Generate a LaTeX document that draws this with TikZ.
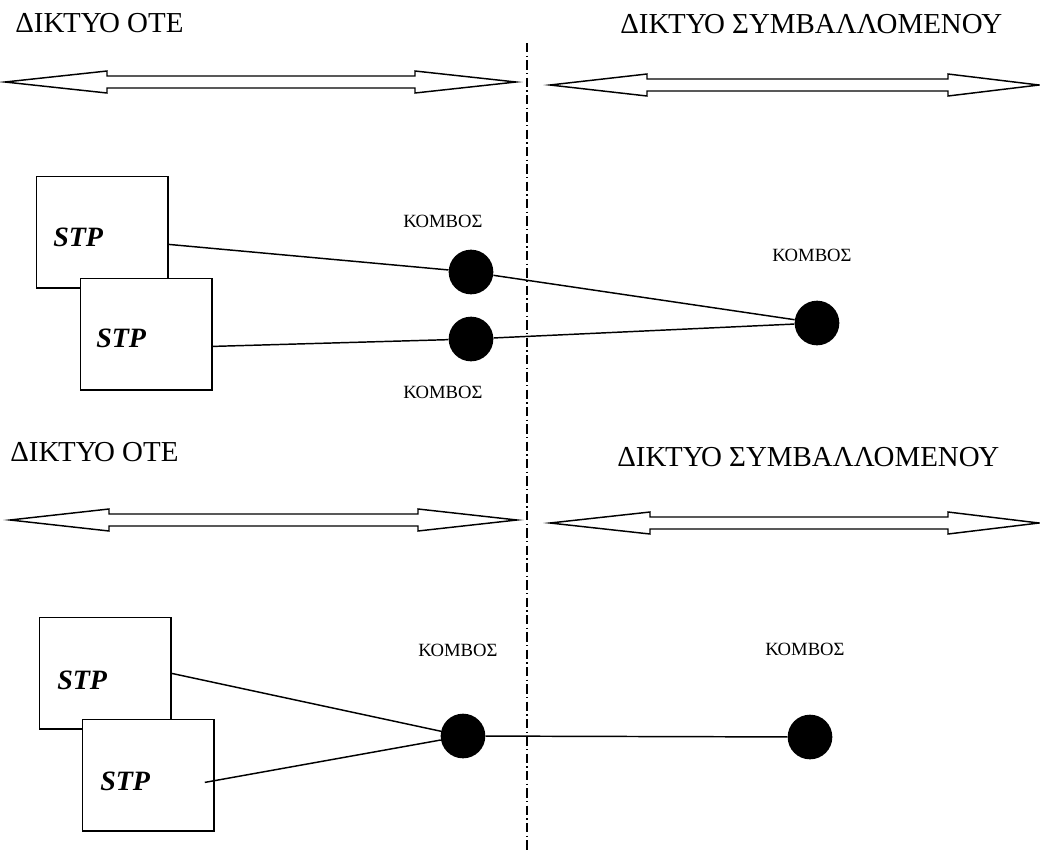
\documentclass[tikz,border=0pt]{standalone}
\usepackage{fontspec}
\setmainfont{Liberation Serif}
\usetikzlibrary{calc}

\tikzset{
  stpbox/.style={draw, fill=white, line width=1.1pt, minimum width=98.5pt, minimum height=83.5pt, inner sep=0pt},
  stplabel/.style={anchor=west, inner sep=0pt, font=\fontsize{21pt}{24pt}\selectfont\bfseries\itshape},
  komvos/.style={circle, fill=black, minimum size=33.5pt, inner sep=0pt},
  komvoslabel/.style={inner sep=0pt, font=\fontsize{14pt}{16pt}\selectfont},
  heading/.style={anchor=base west, inner sep=0pt, font=\fontsize{21.7pt}{24pt}\selectfont},
  link/.style={line width=1.1pt},
  netarrow/.style={line width=1.1pt, line join=miter},
  border/.style={line width=0.9pt, dash pattern=on 7pt off 2.5pt on 1pt off 2.5pt}
}

\begin{document}
\begin{tikzpicture}[x=0.75pt,y=0.75pt,yscale=-1,xscale=1]
\useasboundingbox (0,0) rectangle (1040,851);

%Dash-dot boundary
\draw[border] (527,43) -- (527,851);

%Shape: Double Arrow (top left)
\draw[netarrow] (5,82) -- (107,71) -- (107,76) -- (415,76) -- (415,71) -- (516,82) -- (415,93) -- (415,88) -- (107,88) -- (107,93) -- cycle;
%Shape: Double Arrow (top right)
\draw[netarrow] (550,85) -- (647,74) -- (647,79) -- (948,79) -- (948,74) -- (1039,85) -- (948,96) -- (948,91) -- (647,91) -- (647,96) -- cycle;
%Shape: Double Arrow (bottom left)
\draw[netarrow] (10,520) -- (109,509) -- (109,514) -- (418,514) -- (418,509) -- (517,520) -- (418,531) -- (418,526) -- (109,526) -- (109,531) -- cycle;
%Shape: Double Arrow (bottom right)
\draw[netarrow] (550,523) -- (650,512) -- (650,517) -- (948,517) -- (948,512) -- (1039,523) -- (948,534) -- (948,529) -- (650,529) -- (650,534) -- cycle;

% Text Node
\node[heading] (oteTop) at (15,32) {ΔΙΚΤΥΟ ΟΤΕ};
% Text Node
\node[heading] (symTop) at (620,33) {ΔΙΚΤΥΟ ΣΥΜΒΑΛΛΟΜΕΝΟΥ};
% Text Node
\node[heading] (oteBot) at (10,461) {ΔΙΚΤΥΟ ΟΤΕ};
% Text Node
\node[heading] (symBot) at (617,466) {ΔΙΚΤΥΟ ΣΥΜΒΑΛΛΟΜΕΝΟΥ};

%Shape: Rectangle (STP boxes)
\node[stpbox, anchor=north west] (stpA) at (36,176) {};
\node[stpbox, anchor=north west] (stpB) at (80,278) {};
\node[stpbox, anchor=north west] (stpC) at (39,617) {};
\node[stpbox, anchor=north west] (stpD) at (82,719) {};
\node[stplabel] (stpAtext) at ($(stpA.west)+(17,5)$) {STP};
\node[stplabel] (stpBtext) at ($(stpB.west)+(16,4)$) {STP};
\node[stplabel] (stpCtext) at ($(stpC.west)+(18,7)$) {STP};
\node[stplabel] (stpDtext) at ($(stpD.west)+(18,6)$) {STP};

%Shape: Circle (nodes)
\node[komvos] (komvosA) at (471,272) {};
\node[komvos] (komvosB) at (471,339) {};
\node[komvos] (komvosC) at (817,323) {};
\node[komvos] (komvosD) at (463,736) {};
\node[komvos] (komvosE) at (810,737) {};

% Text Node
\node[komvoslabel] (lblA) at (443,221) {ΚΟΜΒΟΣ};
\node[komvoslabel] (lblB) at (443,392) {ΚΟΜΒΟΣ};
\node[komvoslabel] (lblC) at (812,255) {ΚΟΜΒΟΣ};
\node[komvoslabel] (lblD) at (458,650) {ΚΟΜΒΟΣ};
\node[komvoslabel] (lblE) at (805,649) {ΚΟΜΒΟΣ};

%Straight Lines (links)
\coordinate (outA) at ($(stpA.east)+(0,12)$);
\coordinate (outB) at ($(stpB.east)+(0,12)$);
\coordinate (outD) at ($(stpD.east)+(-10,7)$);
\draw[link] (outA) -- (komvosA);
\draw[link] (komvosA) -- (komvosC);
\draw[link] (outB) -- (komvosB);
\draw[link] (komvosB) -- (komvosC);
\draw[link] (stpC.east) -- (komvosD);
\draw[link] (outD) -- (komvosD);
\draw[link] (komvosD) -- (komvosE);
\end{tikzpicture}
\end{document}
